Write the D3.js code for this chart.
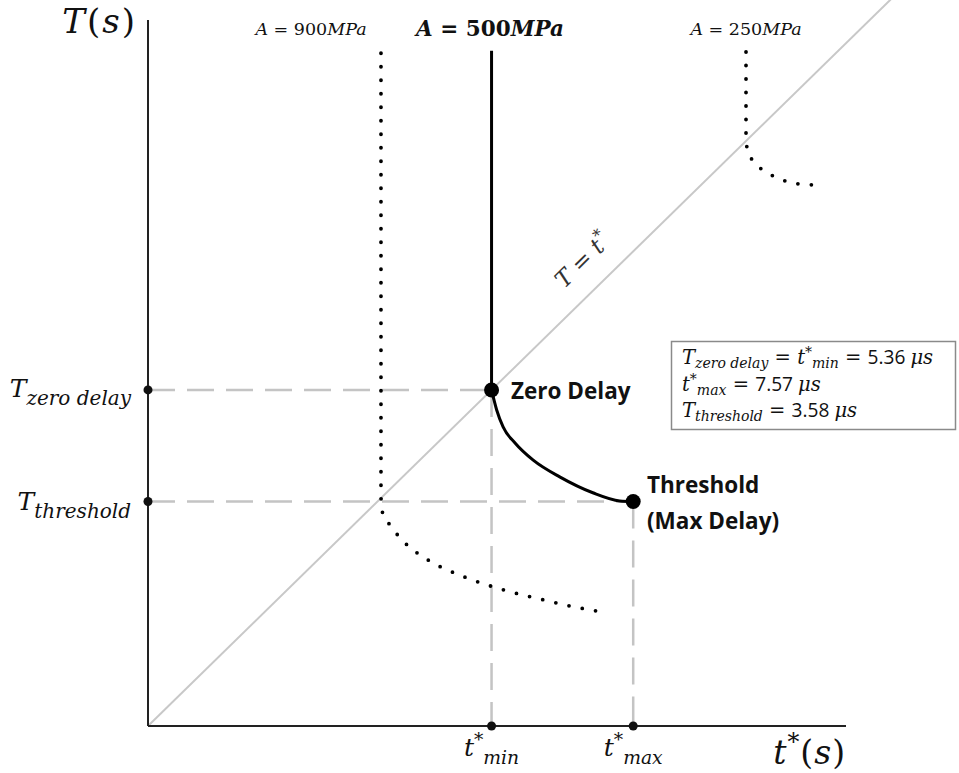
<!DOCTYPE html>
<html>
<head>
<meta charset="utf-8">
<script src="https://cdn.jsdelivr.net/npm/d3@7"></script>
<style>
  html, body { margin: 0; padding: 0; background: #fff; }
  svg { display: block; }
</style>
</head>
<body>
<svg id="chart" width="959" height="773"></svg>
<script>
// key values (microseconds)
const tMin = 5.36, tMax = 7.57, tZero = 5.36, tThreshold = 3.58;

// curves, [t*, T]; first point is the top of the vertical part
const curve900 = [[3.635, 10.73], [3.635, 3.64], [3.66, 3.40], [3.78, 3.20], [4.0, 2.93], [4.35, 2.66],
                  [4.93, 2.38], [5.55, 2.17], [6.18, 2.01], [6.60, 1.91], [7.02, 1.83]];
const curve500 = [[5.36, 10.77], [5.36, 5.36], [5.44, 5.04], [5.54, 4.77], [5.73, 4.51], [6.01, 4.24],
                  [6.43, 3.97], [6.94, 3.72], [7.36, 3.59], [7.57, 3.58]];
const curve250 = [[9.33, 10.75], [9.33, 9.33], [9.35, 9.20], [9.44, 9.01], [9.59, 8.87], [9.78, 8.76],
                  [9.98, 8.68], [10.20, 8.64], [10.41, 8.63]];
const curveLabels = ['900', '500', '250'];

const SERIF = '"DejaVu Serif", serif', SANS = '"Open Sans", Lato, sans-serif';

var svg = d3.select('#chart');

var x = d3.scaleLinear().domain([0, 10.89]).range([148, 846]);
var y = d3.scaleLinear().domain([0, 11.26]).range([726, 20]);

var smooth = d3.line()
    .x(d => x(d[0]))
    .y(d => y(d[1]))
    .curve(d3.curveMonotoneX);

// straight vertical part, then the smooth bend
function curvePath(c) {
    return 'M' + x(c[0][0]) + ',' + y(c[0][1]) + smooth(c.slice(1)).replace(/^M/, 'L');
}

// T = t* diagonal
svg.append('path')
    .attr('d', d3.line().x(d => x(d[0])).y(d => y(d[1]))([[0, 0], [13, 13]]))
    .attr('stroke', '#c8c8c8').attr('stroke-width', 2).attr('fill', 'none');

// dashed guides
var guides = [
    [[0, tZero], [tMin, tZero]],
    [[0, tThreshold], [tMax, tThreshold]],
    [[tMin, tZero], [tMin, 0]],
    [[tMax, tThreshold], [tMax, 0]]
];
svg.selectAll('.guide').data(guides).enter().append('path')
    .attr('class', 'guide')
    .attr('d', d => d3.line().x(p => x(p[0])).y(p => y(p[1]))(d))
    .attr('stroke', '#c4c4c4').attr('stroke-width', 2.5)
    .attr('stroke-dasharray', '27 12').attr('fill', 'none');

// axes
svg.append('line').attr('x1', x(0)).attr('y1', y(0)).attr('x2', x(0)).attr('y2', y.range()[1])
    .attr('stroke', '#222').attr('stroke-width', 2);
svg.append('line').attr('x1', x(0)).attr('y1', y(0)).attr('x2', x.range()[1]).attr('y2', y(0))
    .attr('stroke', '#222').attr('stroke-width', 2);

// dotted curves
[curve900, curve250].forEach(c => {
    svg.append('path').attr('d', curvePath(c))
        .attr('fill', 'none').attr('stroke', '#000').attr('stroke-width', 3.8)
        .attr('stroke-linecap', 'round').attr('stroke-dasharray', '0 13.5');
});
// main curve
svg.append('path').attr('d', curvePath(curve500))
    .attr('fill', 'none').attr('stroke', '#000').attr('stroke-width', 3);

// axis markers
var axisDots = [[0, tZero], [0, tThreshold], [tMin, 0], [tMax, 0]];
svg.selectAll('.adot').data(axisDots).enter().append('circle')
    .attr('cx', d => x(d[0])).attr('cy', d => y(d[1])).attr('r', 4.5).attr('fill', '#111');
var keyDots = [[tMin, tZero], [tMax, tThreshold]];
svg.selectAll('.kdot').data(keyDots).enter().append('circle')
    .attr('cx', d => x(d[0])).attr('cy', d => y(d[1])).attr('r', 7.5).attr('fill', '#000');

// math-ish text helper
function mathText(sel, px, py, parts, opts) {
    var t = sel.append('text').attr('x', px).attr('y', py)
        .attr('font-family', SERIF).attr('font-size', opts.size)
        .attr('text-anchor', opts.anchor || 'start')
        .attr('fill', opts.color || '#111')
        .style('white-space', 'pre');
    if (opts.transform) t.attr('transform', opts.transform);
    if (opts.spacing) t.attr('letter-spacing', opts.spacing);
    var r = opts.ratio || 0.72, shift = 0;
    var subS = opts.subShift || 0.3, supS = opts.supShift || 0.42;
    parts.forEach(p => {
        var ts = t.append('tspan').text(p.t);
        var target = p.sub ? opts.size * subS : p.sup ? -opts.size * supS : 0;
        if (target !== shift) { ts.attr('dy', target - shift); shift = target; }
        if (p.dx) ts.attr('dx', p.dx);
        if (p.it) ts.attr('font-style', 'italic');
        if (p.b || opts.bold) ts.attr('font-weight', 'bold');
        if (p.sans) ts.attr('font-family', SANS).attr('font-size', opts.size * 0.98);
        else ts.attr('font-size', (p.sub || p.sup) ? opts.size * r : opts.size);
    });
    return t;
}

// axis titles
mathText(svg, 137, 33, [{t: 'T', it: 1}, {t: '('}, {t: 's', it: 1}, {t: ')'}], {size: 34, anchor: 'end', spacing: 2});
mathText(svg, 846, 764, [{t: 't', it: 1}, {t: '*', sup: 1}, {t: '('}, {t: 's', it: 1}, {t: ')'}], {size: 33, anchor: 'end', spacing: 1});

// tick-like labels
mathText(svg, 131, 397, [{t: 'T', it: 1}, {t: 'zero delay', it: 1, sub: 1}], {size: 25, anchor: 'end', ratio: 0.8});
mathText(svg, 131, 510, [{t: 'T', it: 1}, {t: 'threshold', it: 1, sub: 1}], {size: 25, anchor: 'end', ratio: 0.8});
mathText(svg, x(tMin), 756, [{t: 't', it: 1}, {t: '*', sup: 1}, {t: 'min', it: 1, sub: 1}], {size: 25, anchor: 'middle', ratio: 0.75});
mathText(svg, x(tMax), 756, [{t: 't', it: 1}, {t: '*', sup: 1}, {t: 'max', it: 1, sub: 1}], {size: 25, anchor: 'middle', ratio: 0.75});

// curve labels
var labelX = [311, 490, 746];
curveLabels.forEach((v, i) => {
    var bold = v === '500';
    mathText(svg, labelX[i], bold ? 36 : 35,
        [{t: 'A', it: 1}, {t: ' = '}, {t: v}, {t: 'MPa', it: 1}],
        {size: bold ? 21.5 : 17.5, anchor: 'middle', bold: bold});
});

// diagonal label
mathText(svg, 0, 0, [{t: 'T', it: 1}, {t: ' = '}, {t: 't', it: 1}, {t: '*', sup: 1}],
    {size: 23, anchor: 'middle', color: '#333', transform: 'translate(588,266) rotate(-44.4)'});

// point annotations
function sansLabel(px, py, txt) {
    svg.append('text').attr('x', px).attr('y', py).text(txt)
        .attr('font-family', SANS).attr('font-weight', 'bold')
        .attr('font-size', 22.5).attr('fill', '#111');
}
sansLabel(511, 399, 'Zero Delay');
sansLabel(647, 493, 'Threshold');
sansLabel(647, 529, '(Max Delay)');

// info box
svg.append('rect').attr('x', 671.5).attr('y', 341.5).attr('width', 284).attr('height', 88)
    .attr('fill', '#fff').attr('stroke', '#8a8a8a').attr('stroke-width', 1.5);
var boxOpts = {size: 19.5, ratio: 0.72, subShift: 0.2, supShift: 0.34};
mathText(svg, 682, 364, [{t: 'T', it: 1}, {t: 'zero delay', it: 1, sub: 1}, {t: ' = '},
    {t: 't', it: 1}, {t: '*', sup: 1}, {t: 'min', it: 1, sub: 1}, {t: ' = '},
    {t: tZero.toFixed(2) + ' ', sans: 1}, {t: 'μs', it: 1}], boxOpts);
mathText(svg, 682, 391, [{t: 't', it: 1}, {t: '*', sup: 1}, {t: 'max', it: 1, sub: 1},
    {t: ' = '}, {t: tMax.toFixed(2) + ' ', sans: 1}, {t: 'μs', it: 1}], boxOpts);
mathText(svg, 682, 417, [{t: 'T', it: 1}, {t: 'threshold', it: 1, sub: 1}, {t: ' = '},
    {t: tThreshold.toFixed(2) + ' ', sans: 1}, {t: 'μs', it: 1}], boxOpts);
</script>
</body>
</html>
